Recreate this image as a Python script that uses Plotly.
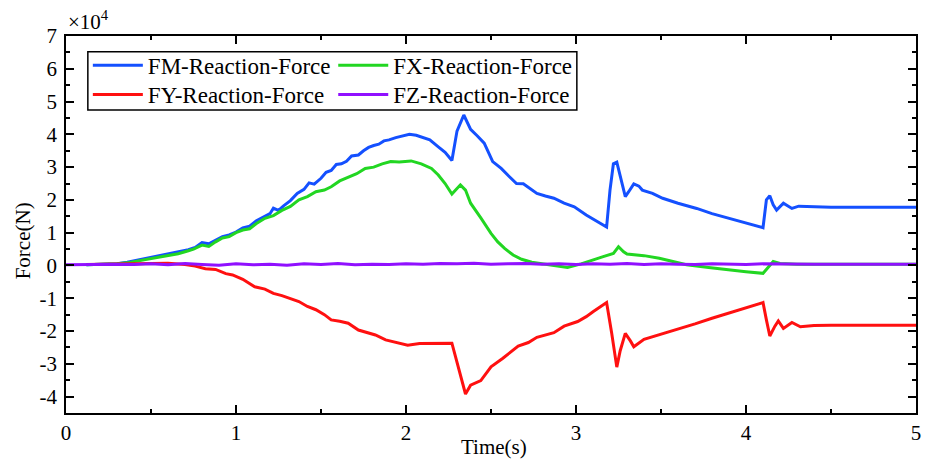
import plotly.graph_objects as go

# ---------------- data (forces in units of 1e4 N) ----------------
t_fm = [0.12,0.20,0.30,0.36,0.42,0.48,0.55,0.60,0.66,0.72,0.76,0.80,0.84,0.88,0.92,0.96,1.00,1.04,1.08,1.12,
        1.16,1.20,1.22,1.25,1.28,1.32,1.36,1.40,1.43,1.46,1.50,1.53,1.56,1.59,1.62,1.65,1.68,1.72,1.75,1.78,
        1.81,1.84,1.87,1.90,1.94,1.98,2.02,2.06,2.10,2.14,2.19,2.23,2.27,2.30,2.34,2.38,2.42,2.46,2.51,2.56,
        2.61,2.65,2.69,2.73,2.77,2.82,2.87,2.93,2.99,3.06,3.12,3.18,3.20,3.22,3.24,3.26,3.29,3.31,3.34,3.37,
        3.39,3.45,3.51,3.60,3.71,3.80,3.90,4.00,4.10,4.12,4.14,4.16,4.18,4.22,4.25,4.27,4.31,4.40,4.45,4.50,5.00]
fm = [0.02,0.03,0.05,0.10,0.16,0.22,0.30,0.34,0.40,0.48,0.55,0.70,0.66,0.78,0.88,0.93,1.02,1.15,1.20,1.36,
      1.48,1.58,1.75,1.68,1.82,1.98,2.20,2.32,2.52,2.48,2.66,2.84,2.90,3.08,3.10,3.18,3.34,3.37,3.50,3.60,
      3.66,3.70,3.80,3.83,3.90,3.96,4.00,3.97,3.90,3.83,3.62,3.45,3.20,4.10,4.59,4.15,3.95,3.73,3.17,2.96,
      2.70,2.50,2.49,2.35,2.20,2.12,2.05,1.90,1.79,1.54,1.36,1.17,2.30,3.10,3.15,2.70,2.10,2.25,2.49,2.42,
      2.30,2.20,2.05,1.90,1.74,1.58,1.44,1.30,1.15,2.00,2.13,1.85,1.69,1.90,1.80,1.74,1.81,1.79,1.80,1.78,1.78]

t_fx = [0.12,0.20,0.30,0.36,0.42,0.48,0.55,0.60,0.66,0.72,0.75,0.80,0.84,0.88,0.92,0.96,1.00,1.04,1.08,1.12,
        1.17,1.22,1.27,1.32,1.37,1.42,1.47,1.52,1.56,1.61,1.66,1.71,1.76,1.81,1.86,1.91,1.96,2.03,2.09,2.15,
        2.19,2.23,2.27,2.32,2.35,2.38,2.44,2.50,2.54,2.58,2.63,2.68,2.74,2.81,2.88,2.95,3.03,3.10,3.16,3.22,
        3.25,3.28,3.30,3.40,3.49,3.57,3.65,3.78,3.90,4.00,4.10,4.13,4.16,4.20,4.23,4.30,5.00]
fx = [0.02,0.03,0.05,0.08,0.14,0.20,0.27,0.32,0.36,0.45,0.50,0.62,0.58,0.72,0.84,0.88,1.00,1.08,1.12,1.28,
      1.44,1.52,1.68,1.80,2.00,2.10,2.25,2.30,2.40,2.58,2.70,2.80,2.96,3.00,3.10,3.17,3.16,3.19,3.10,2.96,
      2.76,2.50,2.18,2.46,2.30,1.90,1.45,0.98,0.72,0.52,0.32,0.19,0.10,0.05,0.00,-0.06,0.05,0.18,0.27,0.37,
      0.57,0.42,0.35,0.30,0.22,0.12,0.02,-0.06,-0.14,-0.19,-0.24,-0.05,0.12,0.06,0.05,0.04,0.04]

t_fy = [0.12,0.30,0.45,0.60,0.70,0.76,0.82,0.88,0.94,0.98,1.04,1.11,1.17,1.22,1.27,1.32,1.37,1.42,1.47,1.52,
        1.56,1.61,1.66,1.72,1.77,1.82,1.88,1.94,2.01,2.08,2.15,2.22,2.27,2.35,2.38,2.44,2.50,2.57,2.62,2.66,
        2.72,2.77,2.87,2.93,3.01,3.06,3.10,3.14,3.18,3.21,3.24,3.26,3.29,3.32,3.34,3.40,3.50,3.61,3.70,3.80,
        3.90,4.00,4.10,4.12,4.14,4.17,4.19,4.22,4.27,4.32,4.40,4.50,5.00]
fy = [0.03,0.05,0.06,0.07,0.03,-0.02,-0.10,-0.12,-0.25,-0.29,-0.42,-0.65,-0.72,-0.85,-0.92,-1.02,-1.10,-1.25,-1.35,-1.50,
      -1.66,-1.70,-1.76,-1.97,-2.05,-2.12,-2.27,-2.35,-2.43,-2.38,-2.37,-2.36,-2.37,-3.92,-3.65,-3.51,-3.09,-2.83,-2.62,-2.46,
      -2.35,-2.19,-2.05,-1.85,-1.71,-1.56,-1.41,-1.28,-1.13,-2.07,-3.10,-2.60,-2.07,-2.30,-2.48,-2.25,-2.10,-1.92,-1.78,-1.61,
      -1.45,-1.30,-1.13,-1.66,-2.15,-1.85,-1.69,-1.92,-1.74,-1.87,-1.83,-1.82,-1.82]

t_fz = [0.0,0.1,0.2,0.3,0.4,0.5,0.6,0.7,0.8,0.9,1.0,1.1,1.2,1.3,1.4,1.5,1.6,1.7,1.8,1.9,
        2.0,2.1,2.2,2.3,2.4,2.5,2.6,2.7,2.8,2.9,3.0,3.1,3.2,3.3,3.4,3.5,3.6,3.7,3.8,3.9,
        4.0,4.1,4.2,4.3,4.4,4.5,4.6,4.7,4.8,4.9,5.0]
fz = [0.02,0.03,0.02,0.04,0.03,0.05,0.02,0.06,0.03,0.01,0.05,0.02,0.04,0.01,0.05,0.03,0.06,0.02,0.04,0.03,
      0.05,0.04,0.06,0.05,0.07,0.04,0.05,0.06,0.04,0.05,0.03,0.05,0.04,0.06,0.03,0.05,0.04,0.03,0.05,0.04,
      0.03,0.05,0.04,0.05,0.04,0.04,0.05,0.04,0.04,0.05,0.04]

y_tick_vals = [-4, -3, -2, -1, 0, 1, 2, 3, 4, 5, 6, 7]
y_tick_text = ["-4", "-3", "-2", "-1", "0", "1", "2", "3", "4", "5", "6", "7"]
x_tick_vals = [0, 1, 2, 3, 4, 5]
x_tick_text = ["0", "1", "2", "3", "4", "5"]

FONT = "Liberation Serif, Times New Roman, serif"
C_FM = "#1450FF"
C_FX = "#22D622"
C_FY = "#FF1010"
C_FZ = "#9010FF"

fig = go.Figure()
fig.add_trace(go.Scatter(x=t_fm, y=fm, mode="lines", name="FM-Reaction-Force",
                         line=dict(color=C_FM, width=3), legend="legend"))
fig.add_trace(go.Scatter(x=t_fx, y=fx, mode="lines", name="FX-Reaction-Force",
                         line=dict(color=C_FX, width=3), legend="legend2"))
fig.add_trace(go.Scatter(x=t_fy, y=fy, mode="lines", name="FY-Reaction-Force",
                         line=dict(color=C_FY, width=3), legend="legend3"))
fig.add_trace(go.Scatter(x=t_fz, y=fz, mode="lines", name="FZ-Reaction-Force",
                         line=dict(color=C_FZ, width=3), legend="legend4"))

axis_common = dict(
    showline=True, linecolor="black", linewidth=1.5, mirror="ticks",
    ticks="inside", ticklen=8, tickwidth=1.5, tickcolor="black",
    showgrid=False, zeroline=False,
    tickfont=dict(family=FONT, size=21, color="black"),
)

fig.update_xaxes(range=[0, 5], tickmode="array", tickvals=x_tick_vals, ticktext=x_tick_text,
                 minor=dict(tickmode="linear", tick0=0, dtick=0.5, ticks="inside", ticklen=4,
                            tickwidth=1.5, tickcolor="black"),
                 **axis_common)
fig.update_yaxes(range=[-4.5, 7], tickmode="array", tickvals=y_tick_vals, ticktext=y_tick_text,
                 minor=dict(tickmode="linear", tick0=0, dtick=0.5, ticks="inside", ticklen=4,
                            tickwidth=1.5, tickcolor="black"),
                 ticklabelstandoff=3,
                 **axis_common)

legend_common = dict(font=dict(family=FONT, size=23, color="black"), bgcolor="rgba(0,0,0,0)",
                     borderwidth=0, xanchor="left", yanchor="top", orientation="v",
                     tracegroupgap=0, itemwidth=50)

COL1_X, COL2_X = 0.0257, 0.3144
ROW1_Y, ROW2_Y = 0.979, 0.902

fig.update_layout(
    width=929, height=461,
    margin=dict(l=66, r=8, t=36, b=48),
    paper_bgcolor="white", plot_bgcolor="white",
    showlegend=True,
    legend=dict(x=COL1_X, y=ROW1_Y, **legend_common),
    legend2=dict(x=COL2_X, y=ROW1_Y, **legend_common),
    legend3=dict(x=COL1_X, y=ROW2_Y, **legend_common),
    legend4=dict(x=COL2_X, y=ROW2_Y, **legend_common),
    shapes=[dict(type="rect", xref="paper", yref="paper", x0=0.0257, x1=0.601, y0=0.804, y1=0.958,
                 line=dict(color="black", width=1.5), fillcolor="white", layer="below")],
    annotations=[
        dict(text="×10<sup>4</sup>", xref="paper", yref="paper", x=0.0, y=1.042,
             xanchor="left", yanchor="middle", showarrow=False,
             font=dict(family=FONT, size=21, color="black")),
        dict(text="Force(N)", xref="paper", yref="paper", x=-0.0503, y=0.456,
             xanchor="center", yanchor="middle", textangle=-90, showarrow=False,
             font=dict(family=FONT, size=21, color="black")),
        dict(text="Time(s)", xref="paper", yref="paper", x=0.504, y=-0.090,
             xanchor="center", yanchor="middle", showarrow=False,
             font=dict(family=FONT, size=21, color="black")),
    ],
)

fig.write_html("out.html")
